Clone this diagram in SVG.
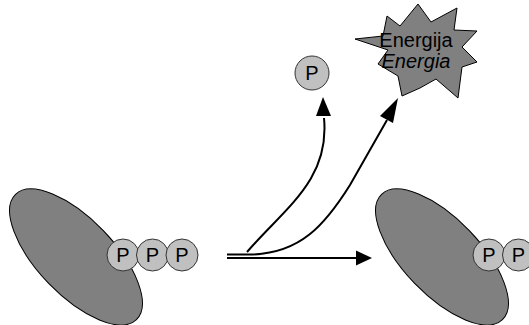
<svg xmlns="http://www.w3.org/2000/svg" width="529" height="325" viewBox="0 0 529 325">
<style>
.body{fill:#808080;stroke:#000;stroke-width:1}
.p{fill:#c0c0c0;stroke:#333;stroke-width:1}
.pt{font-family:"Liberation Sans",Arial,sans-serif;font-size:20px;text-anchor:middle;fill:#000}
.et{font-family:"Liberation Sans",Arial,sans-serif;font-size:20px;text-anchor:middle;fill:#000}
.c{fill:none;stroke:#000;stroke-width:2}
.ah{fill:#000}
</style>
<rect width="529" height="325" fill="#fff"/>
<g id="enzyme-left">
<ellipse class="body" cx="76" cy="257" rx="87" ry="38" transform="rotate(46 76 257)"/>
<circle class="p" cx="123" cy="255" r="16"/>
<text class="pt" x="123" y="262">P</text>
<circle class="p" cx="152.5" cy="255" r="16"/>
<text class="pt" x="152.5" y="262">P</text>
<circle class="p" cx="182" cy="255" r="16"/>
<text class="pt" x="182" y="262">P</text>
</g>
<g id="enzyme-right">
<ellipse class="body" cx="442" cy="257" rx="87" ry="38" transform="rotate(46 442 257)"/>
<circle class="p" cx="489" cy="255" r="16"/>
<text class="pt" x="489" y="262">P</text>
<circle class="p" cx="518.5" cy="255" r="16"/>
<text class="pt" x="518.5" y="262">P</text>
</g>
<g id="phosphate">
<circle class="p" cx="312" cy="73" r="17"/>
<text class="pt" x="312" y="80">P</text>
</g>
<g id="energy">
<polygon class="body" points="355,39 383,36 387,16 400,26 418,4 431,22 457,8 454,30 477,31 462,47 477,62 462,67 458,98 436,79 420,88 402,96 398,76 378,64 388,50"/>
<text class="et" x="416" y="47">Energija</text>
<text class="et" x="416" y="68" font-style="italic">Energia</text>
</g>
<g id="connectors">
<path class="c" d="M227,258 L356,258"/>
<path class="ah" d="M356,250.5 L372,258 L356,265.5 Z"/>
<path class="c" d="M227,254.5 L250,254.5 C300,254 325,225 350,185 L387,120"/>
<path class="ah" d="M380,116 L398,98 L393,123 Z"/>
<path class="c" d="M247,252 C285,208 330,180 324,118"/>
<path class="ah" d="M316,116 L323,97 L331,116 Z"/>
</g>
</svg>
